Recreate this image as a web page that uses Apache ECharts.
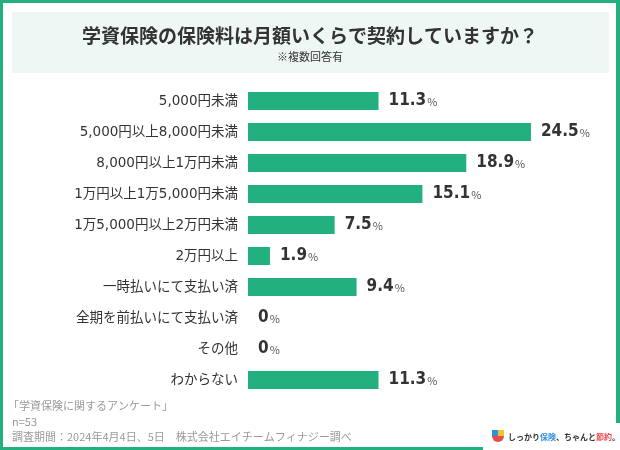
<!DOCTYPE html>
<html>
<head>
<meta charset="utf-8">
<script src="https://cdn.jsdelivr.net/npm/echarts@6/dist/echarts.min.js"></script>
<style>
html,body{margin:0;padding:0;background:#fff;}
#c{width:620px;height:450px;}
</style>
</head>
<body>
<div id="c"></div>
<script>
var categories = ['5,000円未満','5,000円以上8,000円未満','8,000円以上1万円未満','1万円以上1万5,000円未満','1万5,000円以上2万円未満','2万円以上','一時払いにて支払い済','全期を前払いにて支払い済','その他','わからない'];
var values = [11.3, 24.5, 18.9, 15.1, 7.5, 1.9, 9.4, 0, 0, 11.3];
var titleText = '学資保険の保険料は月額いくらで契約していますか？';
var subtitleText = '※複数回答有';
var sourceLines = ['「学資保険に関するアンケート」', 'n=53', '調査期間：2024年4月4日、5日　株式会社エイチームフィナジー調べ'];
var logoText = 'しっかり保険、ちゃんと節約。';

var FONT = '"Noto Sans CJK JP", "Noto Sans", sans-serif';
var NUMFONT = '"DejaVu Sans", "Noto Sans CJK JP", sans-serif';
var VALFONT = '"DejaVu Sans Condensed", "DejaVu Sans", sans-serif';
var GREEN = '#22b07f';
var chart = echarts.init(document.getElementById('c'), null, {renderer:'canvas'});
chart.setOption({
  backgroundColor: '#fff',
  animation: false,
  grid: {left: 248, top: 85.5, width: 346.5, height: 310},
  xAxis: {type: 'value', min: 0, max: 30, show: false},
  yAxis: {
    type: 'category', data: categories, inverse: true,
    axisLine: {show: false}, axisTick: {show: false}, splitLine: {show: false},
    axisLabel: {margin: 10, color: '#333', fontSize: 13.5, fontFamily: NUMFONT}
  },
  series: [{
    type: 'bar', data: values, barWidth: 18,
    itemStyle: {color: GREEN},
    label: {
      show: true, position: 'right', distance: 10,
      formatter: function(p){ return '{v|' + p.value + '}{p|%}'; },
      rich: {
        v: {fontSize: 17, fontWeight: 'bold', color: '#333', fontFamily: VALFONT},
        p: {fontSize: 11, color: '#555', fontFamily: FONT, padding: [2,0,0,1]}
      }
    }
  }],
  graphic: [
    {type: 'rect', shape: {x: 12, y: 12, width: 597, height: 61}, style: {fill: '#eef7f4'}, z: -1},
    {type: 'text', x: 310, y: 36, style: {text: titleText, fill: '#333', font: 'bold 19px ' + FONT, textAlign: 'center', textVerticalAlign: 'middle'}},
    {type: 'text', x: 310, y: 57, style: {text: subtitleText, fill: '#333', font: '11px ' + FONT, textAlign: 'center', textVerticalAlign: 'middle'}},
    // frame
    {type: 'rect', shape: {x: 0, y: 0, width: 620, height: 3}, style: {fill: GREEN}},
    {type: 'rect', shape: {x: 0, y: 0, width: 3, height: 450}, style: {fill: GREEN}},
    {type: 'rect', shape: {x: 616, y: 0, width: 4, height: 423}, style: {fill: GREEN}},
    {type: 'rect', shape: {x: 0, y: 447, width: 483, height: 3}, style: {fill: GREEN}},
    // footer
    {type: 'text', x: 8, y: 406, style: {text: sourceLines[0], fill: '#999', font: '11px ' + FONT, textVerticalAlign: 'middle'}},
    {type: 'text', x: 12, y: 422, style: {text: sourceLines[1], fill: '#999', font: '11px ' + FONT, textVerticalAlign: 'middle'}},
    {type: 'text', x: 12, y: 437, style: {text: sourceLines[2], fill: '#999', font: '11px ' + FONT, textVerticalAlign: 'middle'}},
    // logo
    {type: 'rect', shape: {x: 492, y: 430, width: 6, height: 6}, style: {fill: '#2f8fe0'}},
    {type: 'rect', shape: {x: 498, y: 430, width: 6, height: 6}, style: {fill: '#f5c230'}},
    {type: 'sector', shape: {cx: 498, cy: 436, r: 6, startAngle: 0, endAngle: Math.PI}, style: {fill: '#e94b4b'}},
    {type: 'text', x: 508, y: 437, style: {
      text: '{a|しっかり}{b|保険}{a|、ちゃんと}{c|節約}{a|。}', textVerticalAlign: 'middle',
      rich: {
        a: {fontSize: 8, fontWeight: 'bold', fill: '#333', fontFamily: FONT},
        b: {fontSize: 8, fontWeight: 'bold', fill: '#2f8fe0', fontFamily: FONT},
        c: {fontSize: 8, fontWeight: 'bold', fill: '#e94b4b', fontFamily: FONT}
      }
    }}
  ]
});
</script>
</body>
</html>
